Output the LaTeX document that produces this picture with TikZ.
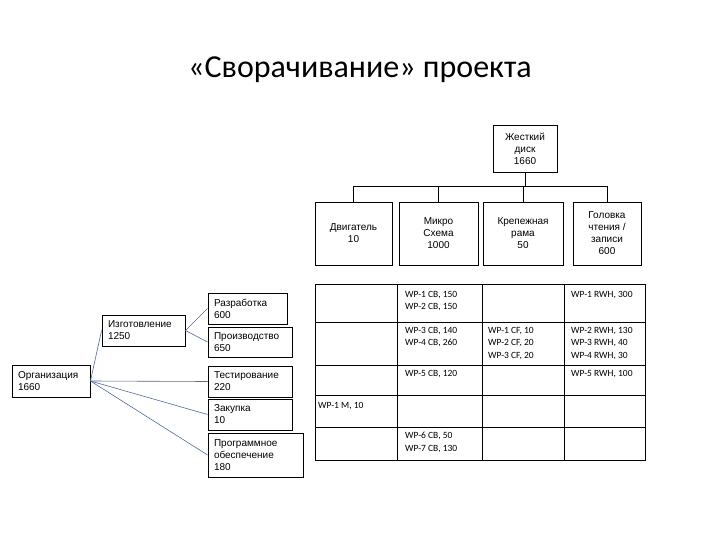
\documentclass[tikz,border=0pt]{standalone}
\usepackage{fontspec}
\setmainfont{Liberation Sans}
\newfontfamily\titlefont{Carlito}
\newfontfamily\cellfont{Carlito}
\begin{document}
\begin{tikzpicture}[x=1pt,y=-1pt,
  box/.style={draw=black,line width=0.9pt,inner sep=0pt,align=center,
    font=\fontsize{10}{12}\selectfont},
  lbox/.style={draw=black,line width=0.9pt,inner xsep=6pt,inner ysep=0pt,align=left,
    font=\fontsize{10}{12}\selectfont},
  link/.style={draw={rgb,255:red,80;green,105;blue,160},line width=0.6pt},
  tree/.style={draw=black,line width=0.9pt},
  cell/.style={anchor=north west,inner sep=0pt,align=left,
    font=\cellfont\fontsize{9.5}{12.5}\selectfont},
  grid/.style={draw=black,line width=0.9pt}]
\useasboundingbox (0,0) rectangle (720,540);

\node[font=\titlefont\fontsize{32}{36}\selectfont] (title) at (360,70) {«Сворачивание» проекта};

% top tree
\node[box,minimum width=64pt,minimum height=47pt] (hd) at (525,148.5) {Жесткий\\диск\\1660};
\node[box,minimum width=77pt,minimum height=63pt] (b1) at (353.5,233.5) {Двигатель\\10};
\node[box,minimum width=79pt,minimum height=63pt] (b2) at (438.5,233.5) {Микро\\Схема\\1000};
\node[box,minimum width=80pt,minimum height=63pt] (b3) at (523,233.5) {Крепежная\\рама\\50};
\node[box,minimum width=68pt,minimum height=63pt] (b4) at (607,233.5) {Головка\\чтения /\\записи\\600};
\coordinate (bus) at (525,186);
\draw[tree] (hd.south) -- (bus);
\draw[tree] (bus) -| (b1.north);
\draw[tree] (bus) -| (b2.north);
\draw[tree] (bus) -| (b3.north);
\draw[tree] (bus) -| (b4.north);

% left tree
\node[lbox,minimum width=78pt,minimum height=32pt,text width=66pt] (org) at (51,381) {Организация\\1660};
\node[lbox,minimum width=83pt,minimum height=31pt,text width=71pt] (izg) at (143.5,330.5) {Изготовление\\1250};
\node[lbox,minimum width=79pt,minimum height=31pt,text width=67pt] (raz) at (247.5,308.5) {Разработка\\600};
\node[lbox,minimum width=84pt,minimum height=30pt,text width=72pt] (pro) at (250,342) {Производство\\650};
\node[lbox,minimum width=84pt,minimum height=31pt,text width=72pt] (tes) at (250,381.5) {Тестирование\\220};
\node[lbox,minimum width=84pt,minimum height=31pt,text width=72pt] (zak) at (250,414.5) {Закупка\\10};
\node[lbox,minimum width=95pt,minimum height=44pt,text width=83pt] (prg) at (255.5,455) {Программное\\обеспечение\\180};
\draw[link] (org.east) -- (izg.west);
\draw[link] (org.east) -- (tes.west);
\draw[link] (org.east) -- (zak.west);
\draw[link] (org.east) -- (prg.west);
\draw[link] (izg.east) -- (raz.west);
\draw[link] (izg.east) -- (pro.west);

% table
\draw[grid] (315,284) rectangle (645,460);
\foreach \yy in {322,365,395,427} \draw[grid] (315,\yy) -- (645,\yy);
\foreach \xx in {397,482,564} \draw[grid] (\xx,284) -- (\xx,460);

\node[cell] (c12) at (405,291) {WP-1 CB, 150\\WP-2 CB, 150};
\node[cell] (c14) at (571,291) {WP-1 RWH, 300};
\node[cell] (c22) at (405,327) {WP-3 CB, 140\\WP-4 CB, 260};
\node[cell] (c23) at (488,327) {WP-1 CF, 10\\WP-2 CF, 20\\WP-3 CF, 20};
\node[cell] (c24) at (571,327) {WP-2 RWH, 130\\WP-3 RWH, 40\\WP-4 RWH, 30};
\node[cell] (c32) at (405,370) {WP-5 CB, 120};
\node[cell] (c34) at (571,370) {WP-5 RWH, 100};
\node[cell] (c41) at (318,402) {WP-1 M, 10};
\node[cell] (c52) at (405,432) {WP-6 CB, 50\\WP-7 CB, 130};
\end{tikzpicture}
\end{document}
